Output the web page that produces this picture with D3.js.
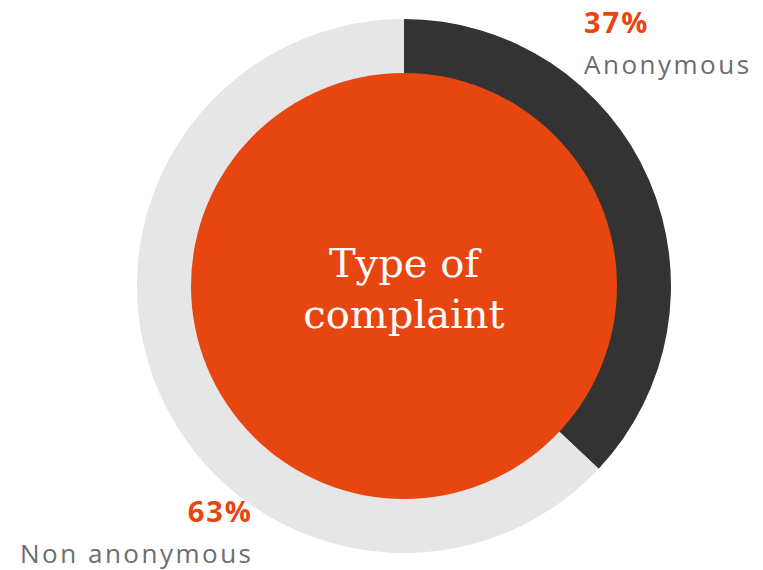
<!DOCTYPE html>
<html>
<head>
<meta charset="utf-8">
<script src="https://cdn.jsdelivr.net/npm/d3@7"></script>
<style>
  html, body { margin: 0; padding: 0; background: #ffffff; }
  svg { display: block; }
</style>
</head>
<body>
<svg id="chart" width="763" height="570"></svg>
<script>
// Share of complaints by type
const categories = ["Anonymous", "Non anonymous"];
const values = [37, 63];
const valueLabels = ["37%", "63%"];
const centerLines = ["Type of", "complaint"];

const colors = ["#333333", "#e6e6e6"];
const accent = "#e84610";
const labelGray = "#6d6d6d";

const svg = d3.select("#chart");
const cx = 404, cy = 286;
const outerR = 267, innerR = 213;

const pie = d3.pie().sort(null).value(d => d)(values);
const arc = d3.arc().innerRadius(innerR - 1).outerRadius(outerR);

const g = svg.append("g").attr("transform", `translate(${cx},${cy})`);

g.selectAll("path.slice")
  .data(pie)
  .join("path")
  .attr("class", "slice")
  .attr("d", arc)
  .attr("fill", (d, i) => colors[i]);

// inner disc
g.append("circle").attr("r", innerR).attr("fill", accent);

// centre title
g.append("text")
  .attr("text-anchor", "middle")
  .attr("fill", "#ffffff")
  .attr("font-family", "'DejaVu Serif', serif")
  .attr("font-size", 40)
  .selectAll("tspan")
  .data(centerLines)
  .join("tspan")
  .attr("x", 0)
  .attr("y", (d, i) => -9 + i * 51)
  .text(d => d);

// slice labels
const labelPos = [
  { x: 584, y: 33, anchor: "start" },
  { x: 251, y: 522, anchor: "end" }
];
const pctSpacing = 2, nameSpacing = 2.5;

categories.forEach((c, i) => {
  const p = labelPos[i];
  const endShift = p.anchor === "end";
  svg.append("text")
    .attr("x", p.x + (endShift ? pctSpacing : 0)).attr("y", p.y)
    .attr("text-anchor", p.anchor)
    .attr("font-family", "'Open Sans', sans-serif")
    .attr("font-weight", 700)
    .attr("font-size", 29)
    .attr("letter-spacing", pctSpacing)
    .attr("fill", accent)
    .text(valueLabels[i]);
  svg.append("text")
    .attr("x", p.x + (endShift ? nameSpacing : 0)).attr("y", p.y + 41)
    .attr("text-anchor", p.anchor)
    .attr("font-family", "'Open Sans', sans-serif")
    .attr("font-size", 26)
    .attr("letter-spacing", nameSpacing)
    .attr("fill", labelGray)
    .text(c);
});
</script>
</body>
</html>
